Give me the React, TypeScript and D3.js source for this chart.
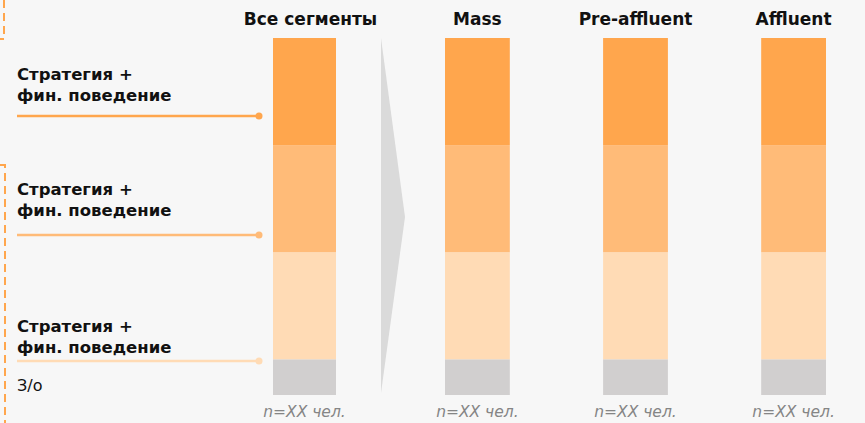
import React from "react";
import * as d3 from "d3";

const W = 865;
const H = 423;

const totalLabel = "Все сегменты";
const segments = ["Mass", "Pre-affluent", "Affluent"];
// stack order bottom -> top
const layers = ["З/о", "Стратегия 3", "Стратегия 2", "Стратегия 1"];
const totalValues = [10, 30, 30, 30];
const segmentValues = [
  [10, 30, 30, 30],
  [10, 30, 30, 30],
  [10, 30, 30, 30],
];
const sampleLabel = "n=XX чел.";
const leftLabels = ["Стратегия +", "фин. поведение"];
const noAnswerLabel = "З/о";

const colors = ["#d1cfcf", "#ffdbb5", "#ffbb78", "#ffa64d"];
const lineColors = ["#ffa64d", "#ffbb78", "#ffdbb5"];

const FONT = "Tahoma, 'DejaVu Sans', Verdana, sans-serif";

export default function App() {
  const y = d3.scaleLinear().domain([0, 100]).range([395, 38]);
  const xSeg = d3
    .scaleBand<string>()
    .domain(segments)
    .range([445, 826])
    .paddingInner(0.59)
    .paddingOuter(0);
  const totalX = 273;
  const totalW = 63;

  const stackOf = (vals: number[]) => {
    let acc = 0;
    return vals.map((v, i) => {
      const s = { y0: acc, y1: acc + v, i };
      acc += v;
      return s;
    });
  };

  const bars = [
    { name: totalLabel, x: totalX, w: totalW, vals: totalValues },
    ...segments.map((s, k) => ({ name: s, x: xSeg(s)!, w: xSeg.bandwidth(), vals: segmentValues[k] })),
  ];

  const arrow = d3.line()([
    [381, 38],
    [405, 217],
    [381, 393],
  ]) + "Z";

  const labelGroups = [
    { t: 80, line: 116 },
    { t: 195, line: 235 },
    { t: 332, line: 361 },
  ];

  return (
    <svg width={W} height={H} style={{ position: "absolute", left: 0, top: 0, background: "#f7f7f7" }}>
      <rect width={W} height={H} fill="#f7f7f7" />
      {/* dashed brackets */}
      <path d="M4,0 V39 H0" fill="none" stroke="#ffa64d" strokeWidth={2} strokeDasharray="8,5" />
      <path d="M0,165 H5 V423" fill="none" stroke="#ffa64d" strokeWidth={2} strokeDasharray="8,5" />

      <path d={arrow} fill="#dadada" />

      {bars.map((b) => (
        <g key={b.name}>
          <text
            x={b.x + b.w / 2 + (b.name === totalLabel ? 6 : 0)}
            y={25}
            textAnchor="middle"
            fontFamily={FONT}
            fontWeight="bold"
            fontSize={17}
            fill="#111"
          >
            {b.name}
          </text>
          {stackOf(b.vals).map((s) => (
            <rect
              key={s.i}
              x={b.x}
              width={b.w}
              y={y(s.y1)}
              height={y(s.y0) - y(s.y1)}
              fill={colors[s.i]}
            />
          ))}
          <text
            x={b.x + b.w / 2}
            y={417}
            textAnchor="middle"
            fontFamily={FONT}
            fontStyle="italic"
            fontSize={15.5}
            fill="#858585"
          >
            {sampleLabel}
          </text>
        </g>
      ))}

      {labelGroups.map((g, i) => (
        <g key={i}>
          <text x={17} y={g.t} fontFamily={FONT} fontWeight="bold" fontSize={16.5} fill="#111">
            {leftLabels[0]}
          </text>
          <text x={17} y={g.t + 21} fontFamily={FONT} fontWeight="bold" fontSize={16.5} fill="#111">
            {leftLabels[1]}
          </text>
          <line x1={17} x2={259} y1={g.line} y2={g.line} stroke={lineColors[i]} strokeWidth={2.5} />
          <circle cx={259} cy={g.line} r={3.5} fill={lineColors[i]} />
        </g>
      ))}
      <text x={17} y={391} fontFamily={FONT} fontSize={16} fill="#111">
        {noAnswerLabel}
      </text>
    </svg>
  );
}
